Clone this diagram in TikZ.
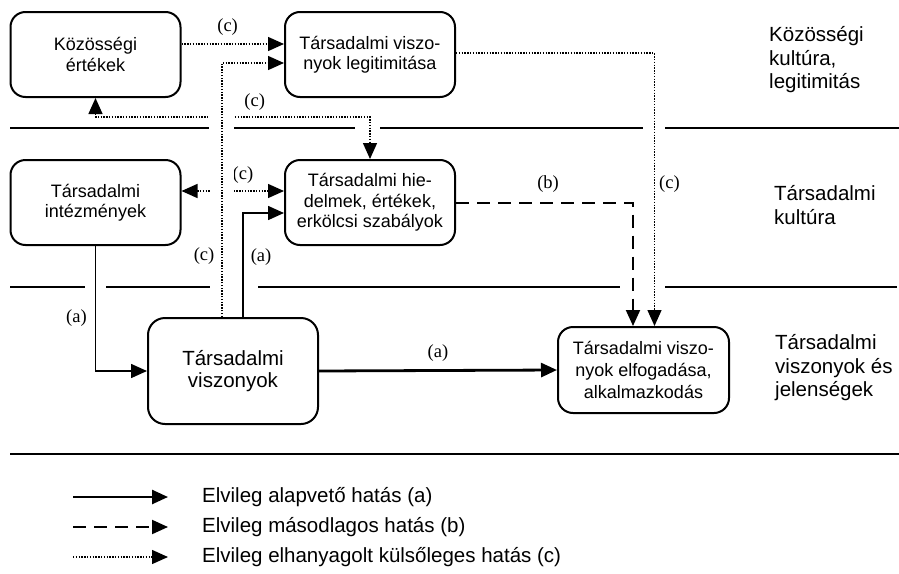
\documentclass[tikz,border=0pt]{standalone}
\usepackage{fontspec}
\setmainfont{Liberation Sans}
\newfontfamily\serifrm{Liberation Serif}
\usepackage{tikz}
\usetikzlibrary{arrows.meta, positioning, calc}
\tikzset{
    >={Triangle[length=16pt,width=14pt]},
    block/.style={
        rectangle,
        rounded corners=15pt,
        draw=black,
        line width=2pt,
        fill=white,
        align=center,
        minimum width=170pt,
        minimum height=85pt,
        font=\fontsize{18}{20.5}\selectfont
    },
    bigblock/.style={
        block,
        rounded corners=17pt,
        minimum height=106pt,
        font=\fontsize{20.5}{22}\selectfont
    },
    wideblock/.style={
        block,
        font=\fontsize{18}{22}\selectfont
    },
    levelname/.style={
        anchor=west,
        align=left,
        inner sep=0pt,
        font=\fontsize{20.5}{23.5}\selectfont
    },
    legendtext/.style={
        anchor=west,
        inner sep=0pt,
        font=\fontsize{20.5}{24}\selectfont
    },
    edgelabel/.style={
        inner sep=0pt,
        font=\serifrm\fontsize{18.5}{20}\selectfont
    },
    separator/.style={
        draw=black,
        line width=2pt
    },
    connection/.style={
        draw=black,
        line width=1.6pt,
        ->
    },
    bus/.style={
        draw=black,
        line width=2.8pt,
        ->
    },
    secondary/.style={
        draw=black,
        line width=2pt,
        dash pattern=on 13pt off 8pt,
        ->
    },
    neglected/.style={
        draw=black,
        line width=1.4pt,
        dash pattern=on 1.4pt off 1.4pt,
        ->
    },
    bridge/.style={
        draw=white,
        line width=24pt
    }
}
\begin{document}
\begin{tikzpicture}[x=1pt, y=-1pt]
\useasboundingbox (0,0) rectangle (899,573);

% Boxes
\node[block] (kozert) at (95.5,54.5) {Közösségi\\értékek};
\node[block] (legit) at (370,54.5) {Társadalmi viszo-\\nyok legitimitása};
\node[block] (intez) at (95.5,202.5) {Társadalmi\\intézmények};
\node[block] (hied) at (370,202.5) {Társadalmi hie-\\delmek, értékek,\\erkölcsi szabályok};
\node[bigblock] (tarsvisz) at (233,371) {Társadalmi\\viszonyok};
\node[wideblock, minimum width=171pt, minimum height=86pt] (elfog) at (643.5,370) {Társadalmi viszo-\\nyok elfogadása,\\alkalmazkodás};

% Level names
\node[levelname] (lvlkoz) at (769,60) {Közösségi\\kultúra,\\legitimitás};
\node[levelname] (lvlkult) at (774,205) {Társadalmi\\kultúra};
\node[levelname] (lvlvisz) at (775,368) {Társadalmi\\viszonyok és\\jelenségek};

% Level separators
\draw[separator] (10,128) -- (209,128);
\draw[separator] (233,128) -- (355,128);
\draw[separator] (380,128) -- (643,128);
\draw[separator] (665,128) -- (899,128);
\draw[separator] (10,287) -- (85,287);
\draw[separator] (106,287) -- (212,287);
\draw[separator] (258,287) -- (620,287);
\draw[separator] (665,287) -- (897,287);
\draw[separator] (10,454) -- (899,454);

% Neglected links (c)
\draw[neglected] ([yshift=10.5pt]kozert.east) -- node[edgelabel, above=8pt, pos=0.45] {(c)} ([yshift=10.5pt]legit.west);
\draw[neglected, <->] (kozert.south) -- ++(0,19) -| node[edgelabel, above=5.5pt, pos=0.29] {(c)} (hied.north);
\draw[neglected, <->] ([yshift=11.5pt]intez.east) -- node[edgelabel, above=6.5pt, pos=0.6] {(c)} ([yshift=11.5pt]hied.west);
\path[bridge] ([xshift=-11pt]tarsvisz.north) -- ++(0,-210);
\draw[neglected] ([xshift=-11pt]tarsvisz.north) |- node[edgelabel, left=7pt, pos=0.12] {(c)} ([yshift=-8.5pt]legit.west);
\draw[neglected] ([yshift=1.5pt]legit.east) -| node[edgelabel, right=4pt, pos=0.74] {(c)} ([xshift=11pt]elfog.north);

% Basic links (a)
\draw[connection] ([xshift=10pt]tarsvisz.north) |- node[edgelabel, right=7pt, pos=0.29] {(a)} ([yshift=-10.5pt]hied.west);
\draw[connection] (intez.south) |- node[edgelabel, left=8pt, pos=0.29] {(a)} (tarsvisz.west);
\draw[bus] (tarsvisz.east) -- node[edgelabel, above=7.5pt] {(a)} (elfog.west);

% Secondary link (b)
\draw[secondary] (hied.east) -| node[edgelabel, above=9pt, pos=0.26] {(b)} ([xshift=-10.5pt]elfog.north);

% Legend
\node[legendtext] (leg1) at (202,497) {Elvileg alapvető hatás (a)};
\node[legendtext] (leg2) at (202,527) {Elvileg másodlagos hatás (b)};
\node[legendtext] (leg3) at (202,557) {Elvileg elhanyagolt külsőleges hatás (c)};
\draw[connection, line width=2.5pt] ([xshift=-129pt]leg1.west) -- ([xshift=-34pt]leg1.west);
\draw[secondary] ([xshift=-129pt]leg2.west) -- ([xshift=-34pt]leg2.west);
\draw[neglected] ([xshift=-129pt]leg3.west) -- ([xshift=-34pt]leg3.west);

\end{tikzpicture}
\end{document}
